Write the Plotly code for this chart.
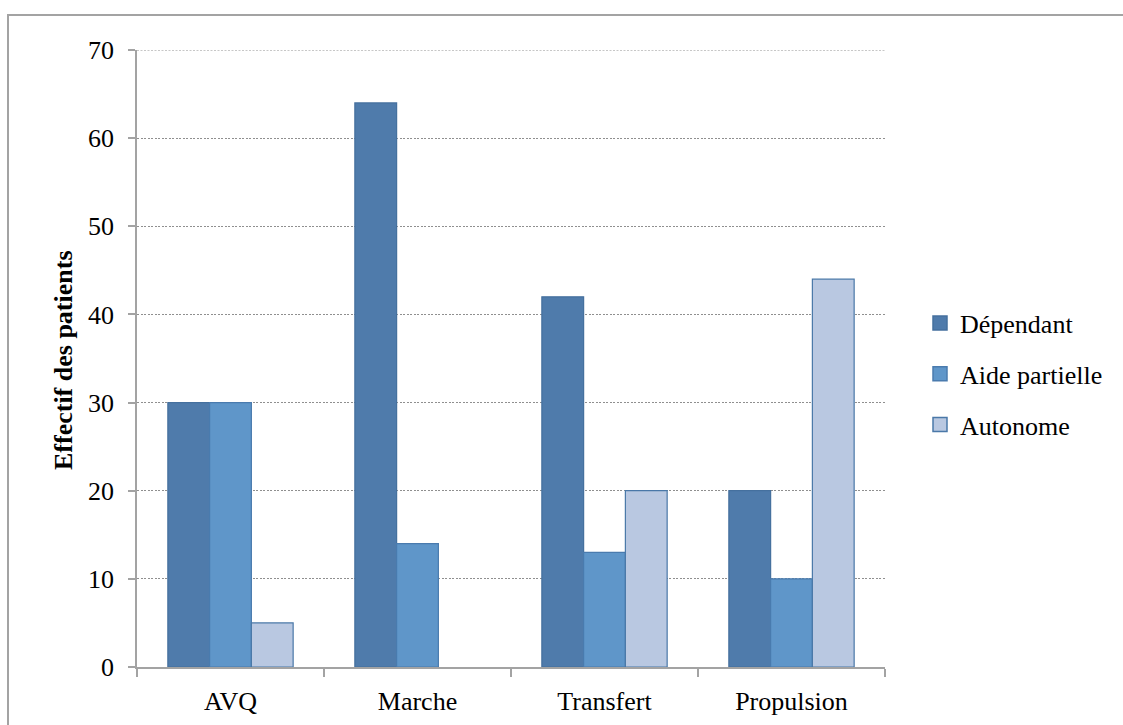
import plotly.graph_objects as go

# Données : effectif des patients par activité et niveau d'autonomie
categories = ["AVQ", "Marche", "Transfert", "Propulsion"]
series_names = ["Dépendant", "Aide partielle", "Autonome"]
dependant = [30, 64, 42, 20]
aide_partielle = [30, 14, 13, 10]
autonome = [5, 0, 20, 44]
y_ticks = [0, 10, 20, 30, 40, 50, 60, 70]

fill_colors = ["#4f7bab", "#5f96c9", "#b9c8e1"]
line_colors = ["#45709e", "#4a7bae", "#4a78a8"]

W, H = 1123, 725
L, R, T, B = 137, 238, 50, 58
pw, ph = W - L - R, H - T - B

font_family = "Liberation Serif"
axis_gray = "#a3a3a3"
grid_gray = "#8f8f8f"
grid_dash = "2px,1.5px"

fig = go.Figure()
for name, vals, fc, lc in zip(series_names, [dependant, aide_partielle, autonome], fill_colors, line_colors):
    # barres groupées (le contour est masqué pour les valeurs nulles)
    fig.add_trace(go.Bar(
        x=categories, y=vals, name=name, showlegend=False,
        marker=dict(color=fc, line=dict(color=lc, width=[1.2 if v > 0 else 0 for v in vals])),
    ))
for i, (name, fc, lc) in enumerate(zip(series_names, fill_colors, line_colors)):
    # entrées de légende carrées
    fig.add_trace(go.Scatter(
        x=[None], y=[None], mode="markers", name=name, legendgroup=f"g{i}",
        marker=dict(symbol="square", size=14, color=fc, line=dict(color=lc, width=1.5)),
    ))

fig.update_layout(
    width=W, height=H,
    margin=dict(l=L, r=R, t=T, b=B, autoexpand=False),
    paper_bgcolor="white", plot_bgcolor="white",
    barmode="group", bargap=0.33, bargroupgap=0,
    font=dict(family=font_family, size=26, color="black"),
    showlegend=True,
    legend=dict(
        x=(920 - L) / pw, xanchor="left",
        y=(H - B - 374) / ph, yanchor="middle",
        font=dict(family=font_family, size=26, color="black"),
        itemsizing="trace", tracegroupgap=14,
        bgcolor="rgba(0,0,0,0)",
    ),
    xaxis=dict(
        type="category", automargin=False,
        showline=True, linecolor=axis_gray, linewidth=1.5,
        ticks="outside", tickson="boundaries", ticklen=8,
        tickcolor=axis_gray, tickwidth=1.5,
        showgrid=False, ticklabelstandoff=10,
        tickfont=dict(family=font_family, size=26),
    ),
    yaxis=dict(
        range=[0, 70], tickvals=y_ticks, automargin=False,
        showline=True, linecolor=axis_gray, linewidth=1.5,
        ticks="outside", ticklen=7, tickcolor=axis_gray, tickwidth=1.5,
        showgrid=True, gridcolor=grid_gray, gridwidth=1, griddash=grid_dash,
        zeroline=False, ticklabelstandoff=9,
        tickfont=dict(family=font_family, size=26),
    ),
    annotations=[dict(
        text="<b>Effectif des patients</b>",
        x=(63 - L) / pw, y=(H - B - 360) / ph, xref="paper", yref="paper",
        xanchor="center", yanchor="middle",
        textangle=-90, showarrow=False,
        font=dict(family=font_family, size=26),
    )],
    shapes=[
        # cadre de la figure
        dict(
            type="rect", xref="paper", yref="paper",
            x0=(8 - L) / pw, x1=(W + 20 - L) / pw,
            y0=(H - B - (H + 20)) / ph, y1=(H - B - 15) / ph,
            line=dict(color=axis_gray, width=2), fillcolor="rgba(0,0,0,0)",
            layer="below",
        ),
        # ligne de quadrillage supérieure (70)
        dict(
            type="line", xref="paper", yref="y",
            x0=0, x1=1, y0=y_ticks[-1], y1=y_ticks[-1],
            line=dict(color=grid_gray, width=1, dash=grid_dash),
            layer="below",
        ),
    ],
)

fig.write_html("out.html")
